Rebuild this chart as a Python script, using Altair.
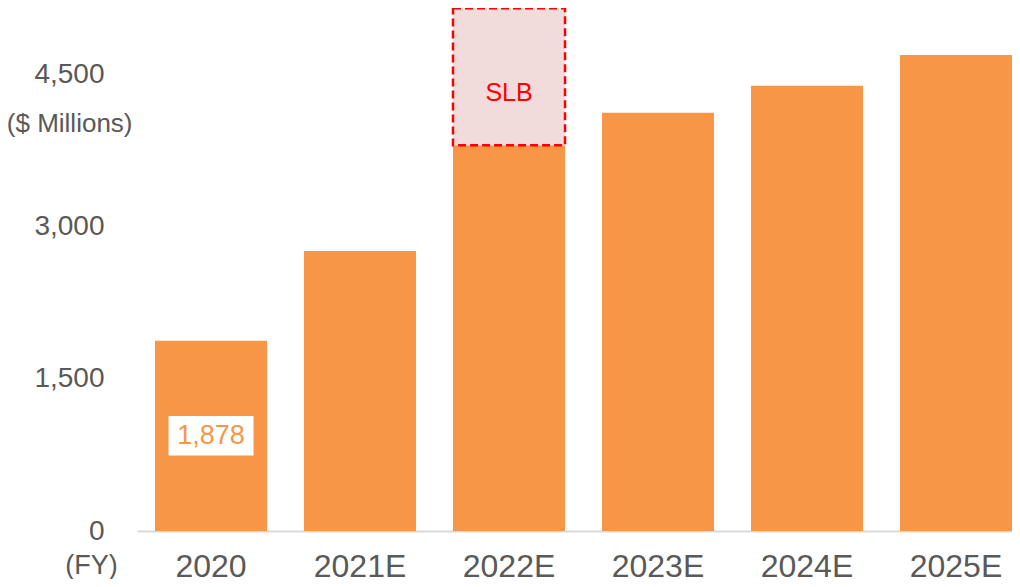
import altair as alt
import pandas as pd

categories = ["2020", "2021E", "2022E", "2023E", "2024E", "2025E"]
values = [1878, 2763, 3806, 4128, 4394, 4697]

slb_category = ["2022E"]
slb_low = [3806]
slb_high = [5158]
slb_text = ["SLB"]

label_category = ["2020"]
label_value = [1878]

FONT = "Liberation Sans"
ORANGE = "#F79646"
GRAY = "#595959"

df = pd.DataFrame({"cat": categories, "value": values})
df_slb = pd.DataFrame({"cat": slb_category, "low": slb_low, "high": slb_high, "text": slb_text})
df_lab = pd.DataFrame({"cat": label_category, "value": label_value})

x_scale = alt.Scale(domain=categories, paddingInner=0.248, paddingOuter=0.0604, align=1.0)
y_scale = alt.Scale(domain=[0, 5161], nice=False)

x_enc = alt.X(
    "cat:N",
    scale=x_scale,
    sort=categories,
    axis=alt.Axis(
        title="(FY)",
        labelAngle=0,
        labelFontSize=32,
        labelColor=GRAY,
        labelFont=FONT,
        labelPadding=20,
        ticks=False,
        domainColor="#D9D9D9",
        domainWidth=2,
        grid=False,
        titleFont=FONT,
        titleFontSize=27,
        titleFontWeight="normal",
        titleColor=GRAY,
        titleX=-46,
        titleY=34,
        titleAlign="center",
        titleBaseline="middle",
    ),
)

y_enc = alt.Y(
    "value:Q",
    scale=y_scale,
    axis=alt.Axis(
        title="($ Millions)",
        values=[0, 1500, 3000, 4500],
        format=",d",
        labelFontSize=28,
        labelColor=GRAY,
        labelFont=FONT,
        labelPadding=33,
        ticks=False,
        domain=False,
        grid=False,
        titleFont=FONT,
        titleFontSize=26,
        titleFontWeight="normal",
        titleColor=GRAY,
        titleAngle=0,
        titleX=-5,
        titleY=115,
        titleAlign="right",
        titleBaseline="middle",
    ),
)

bars = alt.Chart(df).mark_bar(color=ORANGE).encode(x=x_enc, y=y_enc)

slb_box = alt.Chart(df_slb).mark_bar(
    fill="#F2DCDB", stroke="#FF0000", strokeDash=[8, 4], strokeWidth=2.5
).encode(
    x=alt.X("cat:N", scale=x_scale, sort=categories),
    y=alt.Y("low:Q", scale=y_scale),
    y2="high:Q",
)

slb_label = alt.Chart(df_slb).transform_calculate(
    mid="datum.low + 0.38 * (datum.high - datum.low)"
).mark_text(
    color="#FF0000", fontSize=25, font=FONT, baseline="middle", align="center"
).encode(
    x=alt.X("cat:N", scale=x_scale, sort=categories),
    y=alt.Y("mid:Q", scale=y_scale),
    text="text:N",
)

lab_box = alt.Chart(df_lab).transform_calculate(
    lo="datum.value / 2 - 195", hi="datum.value / 2 + 195"
).mark_bar(color="white", width=85).encode(
    x=alt.X("cat:N", scale=x_scale, sort=categories),
    y=alt.Y("lo:Q", scale=y_scale),
    y2="hi:Q",
)

lab_text = alt.Chart(df_lab).transform_calculate(
    mid="datum.value / 2"
).mark_text(
    color=ORANGE, fontSize=27, font=FONT, baseline="middle", align="center"
).encode(
    x=alt.X("cat:N", scale=x_scale, sort=categories),
    y=alt.Y("mid:Q", scale=y_scale),
    text=alt.Text("value:Q", format=",d"),
)

chart = alt.layer(bars, slb_box, slb_label, lab_box, lab_text).properties(
    width=875,
    height=523,
    autosize=alt.AutoSizeParams(type="none"),
    padding={"left": 129, "top": 0, "right": 0, "bottom": 48},
).configure_view(stroke=None)

chart.save("out.html", embed_options={"renderer": "svg", "actions": False})
